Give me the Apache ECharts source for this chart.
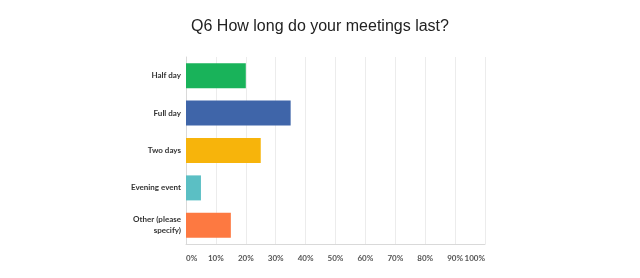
<!DOCTYPE html>
<html><head><meta charset="utf-8">
<script src="https://cdn.jsdelivr.net/npm/echarts@6/dist/echarts.min.js"></script>
<style>html,body{margin:0;padding:0;background:#fff}#c{width:640px;height:278px}</style>
</head><body><div id="c"></div>
<script>
var categories = ['Half day', 'Full day', 'Two days', 'Evening event', 'Other (please\nspecify)'];
var values = [20, 35, 25, 5, 15];
var tickLabels = ['0%', '10%', '20%', '30%', '40%', '50%', '60%', '70%', '80%', '90%', '100%'];
var colors = ['#19b35a', '#3f65a9', '#f7b40b', '#5bbfc4', '#fd7941'];
var chart = echarts.init(document.getElementById('c'));
chart.setOption({
  animation: false,
  title: {
    text: 'Q6 How long do your meetings last?',
    left: 'center', top: 14,
    textStyle: { fontFamily: 'Liberation Sans, Arial, sans-serif', fontSize: 16, fontWeight: 'normal', color: '#222' }
  },
  grid: { left: 186, right: 155, top: 57, bottom: 34 },
  xAxis: {
    type: 'value', min: 0, max: 100, interval: 10,
    axisLabel: {
      formatter: function (v) { return tickLabels[Math.round(v / 10)]; },
      color: '#555', fontSize: 8, fontWeight: 'bold', fontFamily: 'Lato, sans-serif', margin: 10,
      alignMinLabel: 'left', alignMaxLabel: 'right'
    },
    axisLine: { show: true, lineStyle: { color: '#d9d9d9', width: 1 } }, axisTick: { show: false },
    splitLine: { show: true, lineStyle: { color: '#ececec', width: 1 } }
  },
  yAxis: {
    type: 'category', data: categories, inverse: true,
    axisLine: { show: true, lineStyle: { color: '#d9d9d9', width: 1 } },
    axisTick: { show: false },
    axisLabel: { color: '#333', fontSize: 8, fontWeight: 'bold', fontFamily: 'Lato, sans-serif', margin: 5, lineHeight: 11, align: 'right' }
  },
  series: [{
    type: 'bar', barWidth: 25,
    data: values.map(function (v, i) { return { value: v, itemStyle: { color: colors[i] } }; })
  }]
});
</script>
</body></html>
